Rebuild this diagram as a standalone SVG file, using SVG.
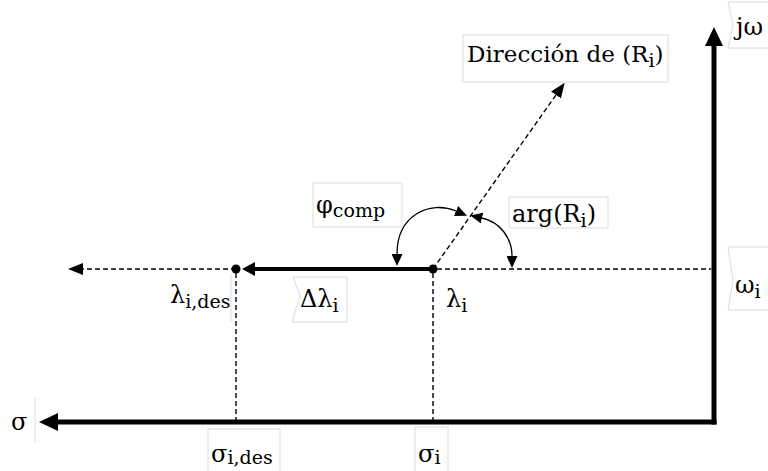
<svg xmlns="http://www.w3.org/2000/svg" width="768" height="471" viewBox="0 0 768 471">
<style>
.t{font-family:"DejaVu Serif","Liberation Serif",serif;font-size:24px;fill:#000}
.d{font-size:23px}
.s{font-size:19px}
.box{fill:#fff;stroke:#dcdcdc;stroke-width:1}
.dash{fill:none;stroke:#000;stroke-width:1.4;stroke-dasharray:5 3}
.axis{fill:none;stroke:#000;stroke-width:5}
.thick{fill:none;stroke:#000;stroke-width:4}
.arc{fill:none;stroke:#000;stroke-width:1.3}
</style>
<defs>
<marker id="ax" markerUnits="userSpaceOnUse" markerWidth="19" markerHeight="18" viewBox="0 0 19 18" refX="0" refY="9" orient="auto"><path d="M0,0 L19,9 L0,18 z" fill="#000"/></marker>
<marker id="th" markerUnits="userSpaceOnUse" markerWidth="13" markerHeight="14" viewBox="0 0 13 14" refX="0" refY="7" orient="auto"><path d="M0,0 L13,7 L0,14 z" fill="#000"/></marker>
<marker id="da" markerUnits="userSpaceOnUse" markerWidth="15" markerHeight="12" viewBox="0 0 15 12" refX="0" refY="6" orient="auto"><path d="M0,0 L15,6 L0,12 z" fill="#000"/></marker>
<marker id="sm" markerUnits="userSpaceOnUse" markerWidth="12" markerHeight="11" viewBox="0 0 12 11" refX="0" refY="5.5" orient="auto-start-reverse"><path d="M0,0 L12,5.5 L0,11 z" fill="#000"/></marker>
</defs>
<rect width="768" height="471" fill="#fff"/>

<g id="connectors">
<line class="dash" x1="236" y1="273" x2="236" y2="420"/>
<line class="dash" x1="433" y1="273" x2="433" y2="420"/>
<line class="dash" x1="437" y1="269" x2="711" y2="269"/>
<line class="dash" x1="236" y1="269" x2="83" y2="269" marker-end="url(#da)"/>
<line class="dash" x1="433" y1="269" x2="556" y2="95" marker-end="url(#da)"/>
<line class="thick" x1="433" y1="269" x2="255" y2="269" marker-end="url(#th)"/>
<line class="axis" x1="714" y1="424.5" x2="714" y2="46" marker-end="url(#ax)"/>
<line class="axis" x1="716.5" y1="422" x2="58" y2="422" marker-end="url(#ax)"/>
<path class="arc" d="M456 211 C430 200 397 215 397 254" marker-start="url(#sm)" marker-end="url(#sm)"/>
<path class="arc" d="M482 218 C500 222 512 238 512 256" marker-start="url(#sm)" marker-end="url(#sm)"/>
</g>

<g id="point-lambda-i"><circle cx="433" cy="269" r="4.5" fill="#000"/></g>
<g id="point-lambda-des"><circle cx="236" cy="269" r="4.5" fill="#000"/></g>

<g id="label-direccion">
<rect class="box" x="463" y="35" width="205" height="47"/>
<text class="t d" x="467" y="62">Dirección de (R<tspan class="s" dy="5">i</tspan><tspan dy="-5">)</tspan></text>
</g>
<g id="label-phi">
<rect class="box" x="313" y="183" width="89" height="44"/>
<text class="t" x="316" y="213">φ<tspan class="s" dy="4">comp</tspan></text>
</g>
<g id="label-arg">
<rect class="box" x="509" y="197" width="99" height="31"/>
<text class="t" x="512" y="222">arg(R<tspan class="s" dy="5">i</tspan><tspan dy="-5">)</tspan></text>
</g>
<g id="label-dlambda">
<polygon class="box" points="293,277 347,277 347,322 292,322 300,296"/>
<text class="t" x="300" y="307">Δλ<tspan class="s" dy="5">i</tspan></text>
</g>
<g id="label-lambda-i">
<text class="t" x="446" y="307">λ<tspan class="s" dy="5">i</tspan></text>
</g>
<g id="label-lambda-des">
<line x1="231" y1="275" x2="231" y2="322" stroke="#dcdcdc" stroke-width="1"/>
<text class="t" x="170" y="303">λ<tspan class="s" dy="5">i,des</tspan></text>
</g>
<g id="label-jw">
<polygon class="box" points="728,2 770,2 770,48 728,48 733,25"/>
<text class="t" x="736" y="35">jω</text>
</g>
<g id="label-wi">
<polygon class="box" points="728,247 770,247 770,310 728,310 733,280"/>
<text class="t" x="735" y="293">ω<tspan class="s" dy="5">i</tspan></text>
</g>
<g id="label-sigma">
<line x1="35" y1="398" x2="35" y2="442" stroke="#dcdcdc" stroke-width="1"/>
<text class="t" x="11" y="430">σ</text>
</g>
<g id="label-sigma-des">
<rect class="box" x="208" y="429" width="72" height="43"/>
<text class="t" x="211" y="462">σ<tspan class="s" dy="2">i,des</tspan></text>
</g>
<g id="label-sigma-i">
<rect class="box" x="415" y="427" width="33" height="45"/>
<text class="t" x="418" y="462">σ<tspan class="s" dy="2">i</tspan></text>
</g>
</svg>
